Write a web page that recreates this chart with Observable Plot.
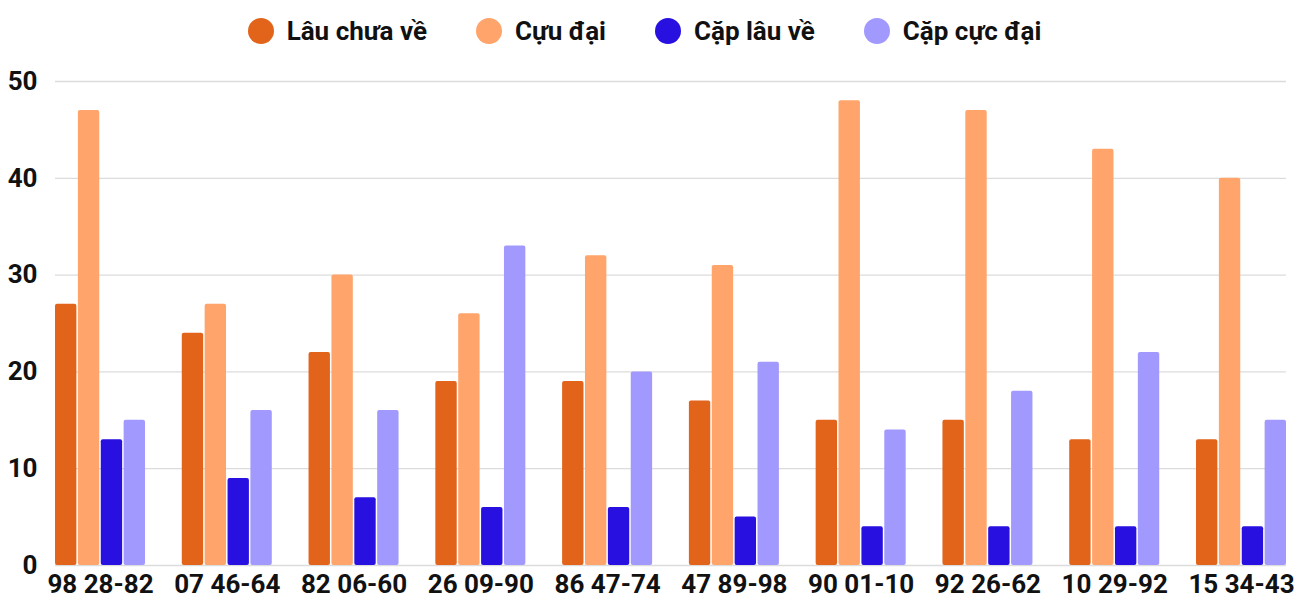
<!DOCTYPE html>
<html>
<head>
<meta charset="utf-8">
<script src="https://cdn.jsdelivr.net/npm/d3@7"></script>
<script src="https://cdn.jsdelivr.net/npm/@observablehq/plot@0.6"></script>
<style>
  body { margin: 0; background: #fff; font-family: Roboto, "Noto Sans", sans-serif; }
  #legend { height: 60px; display: flex; justify-content: center; align-items: center; gap: 49px; padding-right: 11px; padding-top: 2px; box-sizing: border-box; }
  .item { display: flex; align-items: center; gap: 13px; font-weight: bold; font-size: 26px; color: #111; }
  .dot { width: 26px; height: 26px; border-radius: 50%; }
</style>
</head>
<body>
<div id="legend"></div>
<div id="chart"></div>
<script>
const categories = ["98 28-82", "07 46-64", "82 06-60", "26 09-90", "86 47-74", "47 89-98", "90 01-10", "92 26-62", "10 29-92", "15 34-43"];
const seriesNames = ["Lâu chưa về", "Cựu đại", "Cặp lâu về", "Cặp cực đại"];
const lauChuaVe = [27, 24, 22, 19, 19, 17, 15, 15, 13, 13];
const cucDai = [47, 27, 30, 26, 32, 31, 48, 47, 43, 40];
const capLauVe = [13, 9, 7, 6, 6, 5, 4, 4, 4, 4];
const capCucDai = [15, 16, 16, 33, 20, 21, 14, 18, 22, 15];
const colors = ["#E2631A", "#FFA46A", "#2811E0", "#A199FD"];
const yTicks = [0, 10, 20, 30, 40, 50];

const seriesValues = [lauChuaVe, cucDai, capLauVe, capCucDai];

const legend = document.getElementById("legend");
seriesNames.forEach((s, j) => {
  const it = document.createElement("div");
  it.className = "item";
  const d = document.createElement("span");
  d.className = "dot";
  d.style.background = colors[j];
  const t = document.createElement("span");
  t.textContent = s;
  it.appendChild(d); it.appendChild(t);
  legend.appendChild(it);
});

const W = 1300, mL = 55, mR = 14, padIn = 0.29;
const step = (W - mL - mR) / (categories.length - padIn);
const bw = step * (1 - padIn);
const gap = 1.5;
const subW = (bw - gap * (seriesNames.length - 1)) / seriesNames.length;

const barMarks = seriesNames.map((s, j) => {
  const rows = categories.map((c, i) => ({cat: c, series: s, value: seriesValues[j][i]}));
  return Plot.barY(rows, {
    x: "cat", y: "value", fill: colors[j], rx: 2,
    insetLeft: j * (subW + gap),
    insetRight: bw - (j * (subW + gap) + subW)
  });
});

const chart = Plot.plot({
  width: W,
  height: 540,
  marginTop: 21,
  marginBottom: 35,
  marginLeft: mL,
  marginRight: mR,
  style: {fontFamily: "Roboto, sans-serif", background: "#fff"},
  x: {domain: categories, paddingInner: padIn, paddingOuter: 0, round: false, label: null, axis: null},
  y: {domain: [0, 50], axis: null},
  marks: [
    Plot.ruleY(yTicks, {stroke: "#dcdcdc", strokeWidth: 1.3}),
    ...barMarks,
    Plot.axisY({ticks: yTicks, tickSize: 0, tickPadding: 18, fontSize: 26, fontWeight: "bold", fill: "#111", label: null}),
    Plot.axisX({tickSize: 0, tickPadding: 9, fontSize: 26, fontWeight: "bold", fill: "#111", label: null})
  ]
});
document.getElementById("chart").appendChild(chart);
</script>
</body>
</html>
